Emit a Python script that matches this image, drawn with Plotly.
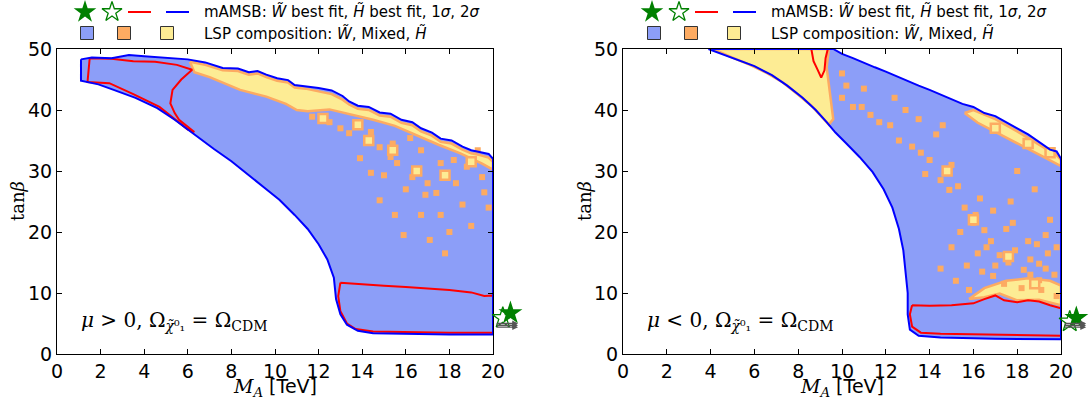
import plotly.graph_objects as go

W, H = 1091, 403

# ---------------- data (TeV, tan beta) ----------------
# Left panel (mu > 0)
L_2S_X = [1.1, 1.6, 2.5, 3.3, 4.0, 5.0, 6.0, 6.8, 7.6, 8.3, 8.8, 9.2, 9.6, 10.1, 10.6, 10.9, 11.4, 12.0, 12.6, 13.1,
          13.4, 13.8, 14.3, 14.8, 15.3, 15.8, 16.3, 16.7, 17.2, 17.6, 18.1, 18.6, 19.0, 19.4, 19.8, 20.0,
          20.0, 18.0, 16.0, 14.5, 13.8, 13.3, 13.0, 12.8, 12.7, 12.4, 12.0, 11.5, 10.9, 10.2, 9.5, 8.7, 8.0, 7.2,
          6.3, 5.4, 4.6, 3.6, 2.6, 1.9, 1.1, 1.1]
L_2S_Y = [48.3, 48.6, 48.5, 49.0, 48.8, 48.6, 48.3, 47.8, 46.9, 46.8, 46.2, 46.4, 45.8, 45.2, 44.9, 44.1, 43.9, 43.6, 43.2, 42.3,
          41.4, 40.7, 40.5, 39.6, 39.4, 38.4, 38.0, 37.0, 36.3, 35.3, 35.0, 34.0, 33.4, 33.1, 32.8, 32.0,
          3.2, 3.2, 3.3, 3.4, 3.8, 4.8, 6.5, 9.0, 12.5, 15.5, 18.0, 20.5, 22.8, 25.3, 27.3, 29.6, 31.6, 33.6,
          36.0, 38.4, 40.3, 42.0, 43.3, 44.2, 44.8, 48.3]
L_1S_A_X = [1.5, 2.5, 3.5, 4.5, 5.5, 6.2, 5.7, 5.3, 5.2, 5.4, 5.6, 6.3, 6.0, 4.7, 3.5, 2.4, 1.4, 1.5]
L_1S_A_Y = [48.5, 48.4, 48.0, 47.9, 47.4, 46.6, 45.0, 43.3, 41.1, 39.5, 38.4, 36.4, 36.8, 40.5, 42.6, 44.4, 44.6, 48.5]
L_1S_B_X = [13.0, 14.0, 15.0, 16.0, 17.0, 18.0, 19.0, 19.6, 20.0, 20.0, 18.0, 16.0, 14.5, 13.7, 13.3, 13.0, 12.9, 13.0]
L_1S_B_Y = [11.7, 11.4, 11.2, 11.0, 10.8, 10.5, 10.1, 9.5, 9.6, 3.5, 3.5, 3.6, 3.7, 4.1, 5.0, 7.0, 9.5, 11.7]
L_HIG_X = [6.1, 6.8, 7.6, 8.3, 8.8, 9.2, 9.6, 10.1, 10.6, 10.9, 11.4, 12.0, 12.6, 13.1, 13.4, 13.8, 14.3, 14.8, 15.3,
           15.8, 16.3, 16.7, 17.2, 17.6, 18.1, 18.6, 19.0, 19.4, 19.8, 20.0,
           20.0, 19.5, 18.5, 17.5, 16.5, 15.5, 14.5, 13.5, 12.5, 11.5, 11.0, 10.5, 9.6, 8.4, 7.0, 6.3, 6.1]
L_HIG_Y = [47.9, 47.4, 46.5, 46.4, 45.8, 46.0, 45.4, 44.8, 44.5, 43.7, 43.5, 43.0, 42.6, 41.7,
           40.9, 40.2, 40.0, 39.1, 38.9, 37.9, 37.5, 36.5, 35.8, 34.8, 34.5, 33.5, 32.9, 32.6, 32.2, 31.5,
           30.2, 31.2, 32.9, 34.3, 35.8, 37.4, 38.4, 39.3, 40.1, 39.8, 40.0, 41.0, 42.2, 43.3, 45.4, 46.2, 47.9]
L_MIX_X = [11.7, 12.5, 13.0, 13.4, 14.4, 14.8, 15.3, 15.4, 16.2, 16.7, 13.9, 14.4, 15.0, 15.6, 16.3,
           17.0, 17.6, 18.2, 18.8, 19.3, 18.3, 17.4, 19.5, 14.8, 15.5, 16.7, 17.6, 16.9, 17.1, 18.6,
           19.0, 19.6, 18.0, 16.0, 19.8, 17.8, 15.9]
L_MIX_Y = [38.9, 38.0, 37.0, 36.2, 36.4, 33.9, 32.3, 34.5, 35.4, 33.4, 32.1, 29.7, 29.3, 31.3, 29.0,
           28.0, 31.3, 31.8, 30.7, 33.4, 28.0, 26.4, 29.0, 25.2, 22.8, 22.8, 22.8, 26.1, 18.7, 24.5,
           21.0, 26.5, 20.0, 27.0, 24.0, 16.5, 19.5]
L_MIXB_X = [13.8, 12.2, 15.4, 16.5, 14.3, 17.8, 19.0]
L_MIXB_Y = [37.6, 38.6, 33.4, 30.0, 35.0, 29.3, 31.5]

# Right panel (mu < 0)
R_2S_X = [3.9, 4.5, 5.3, 6.0, 6.8, 7.5, 8.2, 8.8, 9.3, 9.7, 10.2, 10.8, 11.4, 11.9, 12.3, 12.6, 12.8, 12.9, 13.0,
          13.0, 13.1, 13.5, 14.5, 17.0, 20.0, 20.0, 19.8, 19.5, 19.0, 18.5, 18.0, 17.5, 17.0, 16.5, 16.0, 15.5,
          15.0, 14.5, 14.0, 13.5, 13.0, 12.5, 12.0, 11.5, 11.0, 10.5, 10.0, 9.6, 3.9]
R_2S_Y = [50.0, 49.2, 48.2, 47.2, 45.7, 44.0, 42.0, 40.0, 38.0, 36.3, 34.5, 32.3, 29.8, 27.0, 24.0, 20.5, 17.0, 13.5, 10.0,
          6.5, 4.0, 3.0, 2.7, 2.5, 2.4, 32.0, 33.2, 33.5, 34.8, 36.0, 37.0, 38.0, 39.0, 39.5, 40.5, 41.0,
          41.8, 42.5, 43.3, 44.0, 44.8, 45.5, 46.3, 47.0, 47.8, 48.5, 49.2, 50.0, 50.0]
R_1S_A_X = [8.6, 8.7, 8.9, 9.05, 9.2, 9.25, 9.35]
R_1S_A_Y = [50.0, 48.0, 46.5, 45.3, 46.5, 48.5, 50.0]
R_1S_B_X = [13.2, 14.0, 15.0, 16.0, 16.5, 17.0, 17.4, 18.0, 18.5, 19.0, 19.5, 20.0, 20.0, 18.0, 16.0, 14.5, 13.6, 13.2, 13.1, 13.2]
R_1S_B_Y = [8.0, 7.9, 8.0, 8.3, 9.0, 9.6, 8.8, 8.5, 8.8, 8.6, 8.0, 7.5, 3.0, 3.1, 3.2, 3.3, 3.5, 4.5, 6.5, 8.0]
R_HIG_A_X = [4.1, 9.4, 9.3, 9.4, 9.5, 9.6, 9.4, 9.0, 8.6, 8.0, 7.3, 6.6, 5.8, 5.0, 4.3, 4.1]
R_HIG_A_Y = [50.0, 50.0, 47.0, 44.0, 41.0, 38.5, 37.6, 39.2, 40.7, 42.5, 44.5, 46.0, 47.4, 48.6, 49.6, 50.0]
R_HIG_B_X = [15.6, 16.0, 17.0, 18.0, 19.0, 19.8, 20.0, 20.0, 19.2, 18.5, 17.8, 17.0, 16.2, 15.6]
R_HIG_B_Y = [39.5, 40.0, 38.5, 36.5, 34.3, 32.6, 31.8, 30.8, 32.3, 33.6, 34.9, 36.4, 37.9, 39.5]
R_HIG_C_X = [15.8, 16.5, 17.5, 18.5, 19.5, 20.0, 20.0, 19.0, 18.0, 17.2, 16.5, 15.8]
R_HIG_C_Y = [9.0, 10.8, 12.0, 12.4, 12.0, 11.2, 8.0, 8.9, 8.8, 9.9, 9.3, 9.0]
R_MIX_X = [10.0, 10.2, 10.0, 10.5, 10.9, 11.3, 11.7, 12.2, 12.9, 12.6, 13.2, 13.6, 14.0, 13.8, 14.5, 14.9,
           15.3, 15.0, 15.6, 16.1, 16.5, 16.0, 16.8, 17.2, 17.6, 17.0, 17.9, 18.3, 18.6, 19.0, 19.3, 19.7,
           18.0, 17.7, 18.8, 19.5, 16.3, 15.4, 14.3, 17.4, 18.2, 19.1, 19.8, 16.9, 15.7, 17.5, 18.9, 14.6,
           19.4, 16.6, 12.4, 11.0, 13.5,
           15.2, 15.8, 16.4, 18.6, 19.0, 16.2, 18.5, 19.3, 17.8, 15.0, 14.5, 16.9, 19.8]
R_MIX_Y = [46.0, 44.0, 42.0, 40.5, 40.5, 39.2, 38.0, 37.5, 40.0, 35.0, 34.0, 33.0, 31.8, 29.5, 28.5, 26.9,
           27.5, 31.0, 24.0, 22.8, 20.3, 21.5, 18.5, 16.2, 15.0, 14.5, 17.0, 13.8, 15.5, 12.1, 14.0, 13.0,
           30.0, 25.0, 27.0, 22.0, 25.5, 20.0, 36.0, 11.5, 10.8, 10.5, 9.5, 12.8, 14.5, 20.5, 18.0, 37.5,
           16.5, 17.5, 42.0, 43.5, 38.5,
           12.0, 10.5, 13.5, 13.0, 14.8, 16.5, 18.5, 19.5, 21.5, 17.5, 14.0, 23.5, 17.5]
R_MIXB_X = [17.0, 18.5, 19.5, 16.0, 18.8, 14.8, 17.6]
R_MIXB_Y = [37.0, 34.5, 33.0, 22.0, 11.5, 30.0, 16.0]

# best-fit points (beyond the axis range)
L_BF_W = (20.8, 6.7)
L_BF_H = (20.45, 5.9)
R_BF_W = (20.7, 5.9)
R_BF_H = (20.4, 5.3)
ARROW_Y = [5.0, 4.7, 4.4]

X_TICKS = list(range(0, 21, 2))
Y_TICKS = list(range(0, 51, 10))

C_WINO = "#8c9ef8"
C_MIX = "#fdab62"
C_HIG = "#fdec94"
C_RED = "#ff0000"
C_BLUE = "#0000ff"
C_GREEN = "#008000"

# pixel frame of the two panels
PAN_L = (57, 493)
PAN_R = (623, 1061)
PAN_Y = (49, 354)
EXT = 45  # extra pixels to the right for the best-fit markers

fig = go.Figure()


def area(x, y, xa, ya, fill, line=None, lw=0):
    fig.add_trace(go.Scatter(x=x, y=y, xaxis=xa, yaxis=ya, mode="lines", fill="toself",
                             fillcolor=fill, line=dict(color=line or fill, width=lw if line else 0),
                             hoverinfo="skip", showlegend=False))


def contour(x, y, xa, ya, color):
    fig.add_trace(go.Scatter(x=x, y=y, xaxis=xa, yaxis=ya, mode="lines",
                             line=dict(color=color, width=2), hoverinfo="skip", showlegend=False))


def islands(x, y, xa, ya, size, fill, edge, ew):
    fig.add_trace(go.Scatter(x=x, y=y, xaxis=xa, yaxis=ya, mode="markers",
                             marker=dict(symbol="square", size=size, color=fill,
                                         line=dict(color=edge, width=ew)),
                             hoverinfo="skip", showlegend=False))


def panel(xa, ya, xe, ye, s2x, s2y, higs, mixs, mixb, ones, bfw, bfh):
    area(s2x, s2y, xa, ya, C_WINO)
    for hx, hy in higs:
        area(hx, hy, xa, ya, C_HIG, C_MIX, 2.5)
    islands(mixs[0], mixs[1], xa, ya, 6, C_MIX, C_MIX, 0)
    islands(mixb[0], mixb[1], xa, ya, 9, C_HIG, C_MIX, 2.5)
    for ox, oy in ones:
        contour(ox, oy, xa, ya, C_RED)
    contour(s2x, s2y, xa, ya, C_BLUE)
    # best-fit markers on an extended (invisible) copy of the panel scale
    for ay in ARROW_Y:
        fig.add_annotation(x=21.15, y=ay, ax=20.1, ay=ay, xref=xe, yref=ye, axref=xe, ayref=ye,
                           showarrow=True, arrowhead=2, arrowsize=0.9, arrowwidth=1.3,
                           arrowcolor="#555555", text="")
    fig.add_trace(go.Scatter(x=[bfh[0]], y=[bfh[1]], xaxis=xe, yaxis=ye, mode="markers",
                             marker=dict(symbol="star-open", size=16, color=C_GREEN, line=dict(width=1.3)),
                             cliponaxis=False, hoverinfo="skip", showlegend=False))
    fig.add_trace(go.Scatter(x=[bfw[0]], y=[bfw[1]], xaxis=xe, yaxis=ye, mode="markers",
                             marker=dict(symbol="star", size=18, color=C_GREEN),
                             cliponaxis=False, hoverinfo="skip", showlegend=False))


panel("x", "y", "x3", "y3", L_2S_X, L_2S_Y, [(L_HIG_X, L_HIG_Y)], (L_MIX_X, L_MIX_Y), (L_MIXB_X, L_MIXB_Y),
      [(L_1S_A_X, L_1S_A_Y), (L_1S_B_X, L_1S_B_Y)], L_BF_W, L_BF_H)
panel("x2", "y2", "x4", "y4", R_2S_X, R_2S_Y,
      [(R_HIG_A_X, R_HIG_A_Y), (R_HIG_B_X, R_HIG_B_Y), (R_HIG_C_X, R_HIG_C_Y)],
      (R_MIX_X, R_MIX_Y), (R_MIXB_X, R_MIXB_Y),
      [(R_1S_A_X, R_1S_A_Y), (R_1S_B_X, R_1S_B_Y)], R_BF_W, R_BF_H)

# legend glyphs, drawn on a full-figure pixel frame
for dx in (0, 567):
    fig.add_trace(go.Scatter(x=[85 + dx], y=[12], xaxis="x5", yaxis="y5", mode="markers",
                             marker=dict(symbol="star", size=17, color=C_GREEN),
                             hoverinfo="skip", showlegend=False, cliponaxis=False))
    fig.add_trace(go.Scatter(x=[112 + dx], y=[12], xaxis="x5", yaxis="y5", mode="markers",
                             marker=dict(symbol="star-open", size=15, color=C_GREEN, line=dict(width=1.3)),
                             hoverinfo="skip", showlegend=False, cliponaxis=False))
    fig.add_trace(go.Scatter(x=[128 + dx, 151 + dx], y=[12, 12], xaxis="x5", yaxis="y5", mode="lines",
                             line=dict(color=C_RED, width=2), hoverinfo="skip", showlegend=False))
    fig.add_trace(go.Scatter(x=[166 + dx, 189 + dx], y=[12, 12], xaxis="x5", yaxis="y5", mode="lines",
                             line=dict(color=C_BLUE, width=2), hoverinfo="skip", showlegend=False))
    fig.add_trace(go.Scatter(x=[87 + dx, 124 + dx, 167 + dx], y=[33, 33, 33], xaxis="x5", yaxis="y5",
                             mode="markers",
                             marker=dict(symbol="square", size=13, color=[C_WINO, C_MIX, C_HIG],
                                         line=dict(color="#333333", width=1)),
                             hoverinfo="skip", showlegend=False, cliponaxis=False))

TICKFONT = dict(family="DejaVu Sans", size=19, color="black")
xcommon = dict(range=[0, 20], tickvals=X_TICKS, ticks="inside", ticklen=5, tickcolor="black",
               showline=True, linecolor="black", linewidth=1, mirror="ticks", showgrid=False,
               zeroline=False, tickfont=TICKFONT, fixedrange=True)
ycommon = dict(range=[0, 50], tickvals=Y_TICKS, ticks="inside", ticklen=5, tickcolor="black",
               showline=True, linecolor="black", linewidth=1, mirror="ticks", showgrid=False,
               zeroline=False, tickfont=TICKFONT, fixedrange=True)
hidden = dict(visible=False, showgrid=False, zeroline=False, fixedrange=True)
ydom = [1 - PAN_Y[1] / H, 1 - PAN_Y[0] / H]

fig.update_layout(
    width=W, height=H, margin=dict(l=0, r=0, t=0, b=0, autoexpand=False),
    paper_bgcolor="white", plot_bgcolor="rgba(0,0,0,0)",
    xaxis=dict(domain=[PAN_L[0] / W, PAN_L[1] / W], anchor="y", **xcommon),
    yaxis=dict(domain=ydom, anchor="x", **ycommon),
    xaxis2=dict(domain=[PAN_R[0] / W, PAN_R[1] / W], anchor="y2", **xcommon),
    yaxis2=dict(domain=ydom, anchor="x2", **ycommon),
    xaxis3=dict(domain=[PAN_L[0] / W, (PAN_L[1] + EXT) / W],
                range=[0, 20 * (PAN_L[1] + EXT - PAN_L[0]) / (PAN_L[1] - PAN_L[0])], anchor="y3", **hidden),
    yaxis3=dict(domain=ydom, range=[0, 50], anchor="x3", **hidden),
    xaxis4=dict(domain=[PAN_R[0] / W, min(1, (PAN_R[1] + EXT) / W)],
                range=[0, 20 * (min(W, PAN_R[1] + EXT) - PAN_R[0]) / (PAN_R[1] - PAN_R[0])],
                anchor="y4", **hidden),
    yaxis4=dict(domain=ydom, range=[0, 50], anchor="x4", **hidden),
    xaxis5=dict(domain=[0, 1], range=[0, W], anchor="y5", **hidden),
    yaxis5=dict(domain=[0, 1], range=[H, 0], anchor="x5", **hidden),
)


def px(x):
    return x / W


def py(y):
    return 1 - y / H


def note(x, y, text, font, xanchor="center", angle=0):
    fig.add_annotation(x=px(x), y=py(y), xref="paper", yref="paper", text=text, showarrow=False,
                       xanchor=xanchor, yanchor="middle", textangle=angle, font=font)


XT = "<span style='font-family:DejaVu Serif'><i>M</i><sub><i>A</i></sub></span> [TeV]"
YT = "tan<i>β</i>"
for cx in (275, 842):
    note(cx, 387, XT, dict(family="DejaVu Sans", size=19, color="black"))
for cx in (18, 585):
    note(cx, 201, YT, dict(family="DejaVu Serif", size=18, color="black"), angle=-90)

LBL_L = "<i>μ</i> > 0, Ω<sub><i>χ̃</i>⁰₁</sub> = Ω<sub>CDM</sub>"
LBL_R = "<i>μ</i> < 0, Ω<sub><i>χ̃</i>⁰₁</sub> = Ω<sub>CDM</sub>"
note(79, 321, LBL_L, dict(family="DejaVu Serif", size=20, color="black"), xanchor="left")
note(645, 321, LBL_R, dict(family="DejaVu Serif", size=20, color="black"), xanchor="left")

LEG1 = "mAMSB: <i>W̃</i> best fit, <i>H̃</i> best fit, 1<i>σ</i>, 2<i>σ</i>"
LEG2 = "LSP composition: <i>W̃</i>, Mixed, <i>H̃</i>"
for tx in (202, 769):
    note(tx, 12, LEG1, dict(family="DejaVu Sans", size=15, color="black"), xanchor="left")
    note(tx, 33, LEG2, dict(family="DejaVu Sans", size=15, color="black"), xanchor="left")

fig.write_html("out.html")
